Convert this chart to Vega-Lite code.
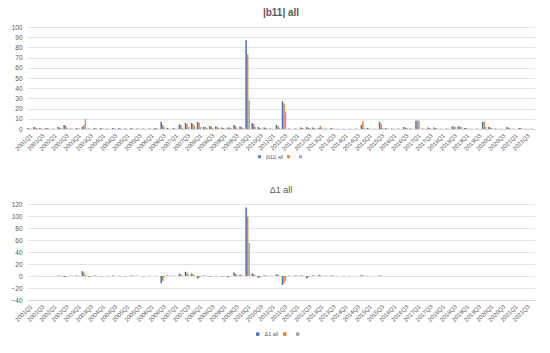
{
  "$schema": "https://vega.github.io/schema/vega-lite/v6.json",
  "background": "white",
  "padding": {"left": 10, "top": 8, "right": 12, "bottom": 5},
  "config": {
    "font": "Liberation Sans",
    "view": {"stroke": null},
    "concat": {"spacing": 26},
    "axis": {"labelColor": "#595959", "labelFontSize": 6.5, "gridColor": "#D9D9D9", "gridWidth": 0.7, "domainColor": "#D9D9D9", "ticks": false, "title": null},
    "legend": {"title": null, "symbolType": "square", "symbolSize": 10, "symbolStrokeWidth": 0, "labelFontSize": 5.5, "labelColor": "#595959", "columnPadding": 3},
    "title": {"color": "#595959", "offset": 6}
  },
  "resolve": {"scale": {"color": "independent", "xOffset": "independent"}},
  "datasets": {
    "top": [
      {"q":"2001Q1","s":"|b11| all","v":1},{"q":"2001Q1","s":"s2","v":0.5},{"q":"2001Q1","s":"s3","v":0.5},
      {"q":"2001Q2","s":"|b11| all","v":2},{"q":"2001Q2","s":"s2","v":1.5},{"q":"2001Q2","s":"s3","v":1},
      {"q":"2001Q3","s":"|b11| all","v":1},{"q":"2001Q3","s":"s2","v":0.5},{"q":"2001Q3","s":"s3","v":0.5},
      {"q":"2001Q4","s":"|b11| all","v":1},{"q":"2001Q4","s":"s2","v":1},{"q":"2001Q4","s":"s3","v":0.5},
      {"q":"2002Q1","s":"|b11| all","v":0.3},{"q":"2002Q1","s":"s2","v":0.3},{"q":"2002Q1","s":"s3","v":0.2},
      {"q":"2002Q2","s":"|b11| all","v":2},{"q":"2002Q2","s":"s2","v":1.5},{"q":"2002Q2","s":"s3","v":1},
      {"q":"2002Q3","s":"|b11| all","v":4},{"q":"2002Q3","s":"s2","v":3},{"q":"2002Q3","s":"s3","v":1},
      {"q":"2002Q4","s":"|b11| all","v":0.5},{"q":"2002Q4","s":"s2","v":0.3},{"q":"2002Q4","s":"s3","v":0.2},
      {"q":"2003Q1","s":"|b11| all","v":1},{"q":"2003Q1","s":"s2","v":0.5},{"q":"2003Q1","s":"s3","v":0.5},
      {"q":"2003Q2","s":"|b11| all","v":2},{"q":"2003Q2","s":"s2","v":4},{"q":"2003Q2","s":"s3","v":10},
      {"q":"2003Q3","s":"|b11| all","v":0.5},{"q":"2003Q3","s":"s2","v":0.3},{"q":"2003Q3","s":"s3","v":0.2},
      {"q":"2003Q4","s":"|b11| all","v":1},{"q":"2003Q4","s":"s2","v":0.5},{"q":"2003Q4","s":"s3","v":0.3},
      {"q":"2004Q1","s":"|b11| all","v":1},{"q":"2004Q1","s":"s2","v":0.5},{"q":"2004Q1","s":"s3","v":0.3},
      {"q":"2004Q2","s":"|b11| all","v":0.5},{"q":"2004Q2","s":"s2","v":0.3},{"q":"2004Q2","s":"s3","v":0.2},
      {"q":"2004Q3","s":"|b11| all","v":1},{"q":"2004Q3","s":"s2","v":0.5},{"q":"2004Q3","s":"s3","v":0.3},
      {"q":"2004Q4","s":"|b11| all","v":1},{"q":"2004Q4","s":"s2","v":0.5},{"q":"2004Q4","s":"s3","v":0.3},
      {"q":"2005Q1","s":"|b11| all","v":0.5},{"q":"2005Q1","s":"s2","v":0.3},{"q":"2005Q1","s":"s3","v":0.2},
      {"q":"2005Q2","s":"|b11| all","v":1},{"q":"2005Q2","s":"s2","v":0.5},{"q":"2005Q2","s":"s3","v":0.3},
      {"q":"2005Q3","s":"|b11| all","v":0.5},{"q":"2005Q3","s":"s2","v":0.3},{"q":"2005Q3","s":"s3","v":0.2},
      {"q":"2005Q4","s":"|b11| all","v":0.5},{"q":"2005Q4","s":"s2","v":0.3},{"q":"2005Q4","s":"s3","v":0.2},
      {"q":"2006Q1","s":"|b11| all","v":0.5},{"q":"2006Q1","s":"s2","v":0.3},{"q":"2006Q1","s":"s3","v":0.2},
      {"q":"2006Q2","s":"|b11| all","v":1},{"q":"2006Q2","s":"s2","v":0.5},{"q":"2006Q2","s":"s3","v":0.3},
      {"q":"2006Q3","s":"|b11| all","v":7},{"q":"2006Q3","s":"s2","v":4},{"q":"2006Q3","s":"s3","v":2},
      {"q":"2006Q4","s":"|b11| all","v":1},{"q":"2006Q4","s":"s2","v":0.5},{"q":"2006Q4","s":"s3","v":0.3},
      {"q":"2007Q1","s":"|b11| all","v":1},{"q":"2007Q1","s":"s2","v":0.5},{"q":"2007Q1","s":"s3","v":0.3},
      {"q":"2007Q2","s":"|b11| all","v":4.5},{"q":"2007Q2","s":"s2","v":4},{"q":"2007Q2","s":"s3","v":1},
      {"q":"2007Q3","s":"|b11| all","v":6},{"q":"2007Q3","s":"s2","v":5},{"q":"2007Q3","s":"s3","v":2},
      {"q":"2007Q4","s":"|b11| all","v":6},{"q":"2007Q4","s":"s2","v":5},{"q":"2007Q4","s":"s3","v":3},
      {"q":"2008Q1","s":"|b11| all","v":7},{"q":"2008Q1","s":"s2","v":6},{"q":"2008Q1","s":"s3","v":2},
      {"q":"2008Q2","s":"|b11| all","v":2},{"q":"2008Q2","s":"s2","v":2},{"q":"2008Q2","s":"s3","v":1},
      {"q":"2008Q3","s":"|b11| all","v":3},{"q":"2008Q3","s":"s2","v":2.5},{"q":"2008Q3","s":"s3","v":1},
      {"q":"2008Q4","s":"|b11| all","v":2.5},{"q":"2008Q4","s":"s2","v":2},{"q":"2008Q4","s":"s3","v":1},
      {"q":"2009Q1","s":"|b11| all","v":1.5},{"q":"2009Q1","s":"s2","v":1},{"q":"2009Q1","s":"s3","v":0.5},
      {"q":"2009Q2","s":"|b11| all","v":1.5},{"q":"2009Q2","s":"s2","v":1.5},{"q":"2009Q2","s":"s3","v":1},
      {"q":"2009Q3","s":"|b11| all","v":4},{"q":"2009Q3","s":"s2","v":3},{"q":"2009Q3","s":"s3","v":1},
      {"q":"2009Q4","s":"|b11| all","v":2.5},{"q":"2009Q4","s":"s2","v":2},{"q":"2009Q4","s":"s3","v":1},
      {"q":"2010Q1","s":"|b11| all","v":87},{"q":"2010Q1","s":"s2","v":73},{"q":"2010Q1","s":"s3","v":28},
      {"q":"2010Q2","s":"|b11| all","v":6},{"q":"2010Q2","s":"s2","v":5},{"q":"2010Q2","s":"s3","v":2},
      {"q":"2010Q3","s":"|b11| all","v":2},{"q":"2010Q3","s":"s2","v":1},{"q":"2010Q3","s":"s3","v":0.5},
      {"q":"2010Q4","s":"|b11| all","v":1.5},{"q":"2010Q4","s":"s2","v":1},{"q":"2010Q4","s":"s3","v":0.5},
      {"q":"2011Q1","s":"|b11| all","v":0.5},{"q":"2011Q1","s":"s2","v":0.3},{"q":"2011Q1","s":"s3","v":0.2},
      {"q":"2011Q2","s":"|b11| all","v":4},{"q":"2011Q2","s":"s2","v":3},{"q":"2011Q2","s":"s3","v":1},
      {"q":"2011Q3","s":"|b11| all","v":27},{"q":"2011Q3","s":"s2","v":25},{"q":"2011Q3","s":"s3","v":17},
      {"q":"2011Q4","s":"|b11| all","v":0.5},{"q":"2011Q4","s":"s2","v":0.3},{"q":"2011Q4","s":"s3","v":0.2},
      {"q":"2012Q1","s":"|b11| all","v":0.5},{"q":"2012Q1","s":"s2","v":0.3},{"q":"2012Q1","s":"s3","v":0.2},
      {"q":"2012Q2","s":"|b11| all","v":1.5},{"q":"2012Q2","s":"s2","v":1},{"q":"2012Q2","s":"s3","v":0.5},
      {"q":"2012Q3","s":"|b11| all","v":2},{"q":"2012Q3","s":"s2","v":1},{"q":"2012Q3","s":"s3","v":1},
      {"q":"2012Q4","s":"|b11| all","v":1.5},{"q":"2012Q4","s":"s2","v":1},{"q":"2012Q4","s":"s3","v":0.5},
      {"q":"2013Q1","s":"|b11| all","v":1},{"q":"2013Q1","s":"s2","v":3},{"q":"2013Q1","s":"s3","v":1},
      {"q":"2013Q2","s":"|b11| all","v":0.5},{"q":"2013Q2","s":"s2","v":0.3},{"q":"2013Q2","s":"s3","v":0.2},
      {"q":"2013Q3","s":"|b11| all","v":1},{"q":"2013Q3","s":"s2","v":0.5},{"q":"2013Q3","s":"s3","v":0.5},
      {"q":"2013Q4","s":"|b11| all","v":0.3},{"q":"2013Q4","s":"s2","v":0.2},{"q":"2013Q4","s":"s3","v":0.1},
      {"q":"2014Q1","s":"|b11| all","v":0.3},{"q":"2014Q1","s":"s2","v":0.2},{"q":"2014Q1","s":"s3","v":0.1},
      {"q":"2014Q2","s":"|b11| all","v":0.3},{"q":"2014Q2","s":"s2","v":0.2},{"q":"2014Q2","s":"s3","v":0.1},
      {"q":"2014Q3","s":"|b11| all","v":0.3},{"q":"2014Q3","s":"s2","v":0.2},{"q":"2014Q3","s":"s3","v":0.1},
      {"q":"2014Q4","s":"|b11| all","v":4},{"q":"2014Q4","s":"s2","v":7},{"q":"2014Q4","s":"s3","v":1},
      {"q":"2015Q1","s":"|b11| all","v":1},{"q":"2015Q1","s":"s2","v":0.5},{"q":"2015Q1","s":"s3","v":0.3},
      {"q":"2015Q2","s":"|b11| all","v":0.3},{"q":"2015Q2","s":"s2","v":0.2},{"q":"2015Q2","s":"s3","v":0.1},
      {"q":"2015Q3","s":"|b11| all","v":7},{"q":"2015Q3","s":"s2","v":5},{"q":"2015Q3","s":"s3","v":1},
      {"q":"2015Q4","s":"|b11| all","v":1},{"q":"2015Q4","s":"s2","v":0.5},{"q":"2015Q4","s":"s3","v":0.3},
      {"q":"2016Q1","s":"|b11| all","v":0.5},{"q":"2016Q1","s":"s2","v":0.3},{"q":"2016Q1","s":"s3","v":0.2},
      {"q":"2016Q2","s":"|b11| all","v":0.5},{"q":"2016Q2","s":"s2","v":0.3},{"q":"2016Q2","s":"s3","v":0.2},
      {"q":"2016Q3","s":"|b11| all","v":2},{"q":"2016Q3","s":"s2","v":1.5},{"q":"2016Q3","s":"s3","v":1},
      {"q":"2016Q4","s":"|b11| all","v":0.5},{"q":"2016Q4","s":"s2","v":0.3},{"q":"2016Q4","s":"s3","v":0.2},
      {"q":"2017Q1","s":"|b11| all","v":8},{"q":"2017Q1","s":"s2","v":8.5},{"q":"2017Q1","s":"s3","v":8},
      {"q":"2017Q2","s":"|b11| all","v":0.5},{"q":"2017Q2","s":"s2","v":0.3},{"q":"2017Q2","s":"s3","v":0.2},
      {"q":"2017Q3","s":"|b11| all","v":1.5},{"q":"2017Q3","s":"s2","v":1},{"q":"2017Q3","s":"s3","v":0.5},
      {"q":"2017Q4","s":"|b11| all","v":1.5},{"q":"2017Q4","s":"s2","v":1},{"q":"2017Q4","s":"s3","v":0.5},
      {"q":"2018Q1","s":"|b11| all","v":0.3},{"q":"2018Q1","s":"s2","v":0.2},{"q":"2018Q1","s":"s3","v":0.1},
      {"q":"2018Q2","s":"|b11| all","v":0.5},{"q":"2018Q2","s":"s2","v":0.3},{"q":"2018Q2","s":"s3","v":0.2},
      {"q":"2018Q3","s":"|b11| all","v":2.5},{"q":"2018Q3","s":"s2","v":2.5},{"q":"2018Q3","s":"s3","v":2},
      {"q":"2018Q4","s":"|b11| all","v":2.5},{"q":"2018Q4","s":"s2","v":2.5},{"q":"2018Q4","s":"s3","v":2},
      {"q":"2019Q1","s":"|b11| all","v":1},{"q":"2019Q1","s":"s2","v":1},{"q":"2019Q1","s":"s3","v":0.5},
      {"q":"2019Q2","s":"|b11| all","v":0.3},{"q":"2019Q2","s":"s2","v":0.2},{"q":"2019Q2","s":"s3","v":0.1},
      {"q":"2019Q3","s":"|b11| all","v":0.3},{"q":"2019Q3","s":"s2","v":0.2},{"q":"2019Q3","s":"s3","v":0.1},
      {"q":"2019Q4","s":"|b11| all","v":7},{"q":"2019Q4","s":"s2","v":7},{"q":"2019Q4","s":"s3","v":2},
      {"q":"2020Q1","s":"|b11| all","v":2},{"q":"2020Q1","s":"s2","v":1.5},{"q":"2020Q1","s":"s3","v":1},
      {"q":"2020Q2","s":"|b11| all","v":0.5},{"q":"2020Q2","s":"s2","v":0.3},{"q":"2020Q2","s":"s3","v":0.2},
      {"q":"2020Q3","s":"|b11| all","v":0.3},{"q":"2020Q3","s":"s2","v":0.2},{"q":"2020Q3","s":"s3","v":0.1},
      {"q":"2020Q4","s":"|b11| all","v":2},{"q":"2020Q4","s":"s2","v":1.5},{"q":"2020Q4","s":"s3","v":1},
      {"q":"2021Q1","s":"|b11| all","v":0.3},{"q":"2021Q1","s":"s2","v":0.2},{"q":"2021Q1","s":"s3","v":0.1},
      {"q":"2021Q2","s":"|b11| all","v":1},{"q":"2021Q2","s":"s2","v":1},{"q":"2021Q2","s":"s3","v":0.5},
      {"q":"2021Q3","s":"|b11| all","v":0.3},{"q":"2021Q3","s":"s2","v":0.2},{"q":"2021Q3","s":"s3","v":0.1},
      {"q":"2021Q4","s":"|b11| all","v":0.3},{"q":"2021Q4","s":"s2","v":0.2},{"q":"2021Q4","s":"s3","v":0.1}
    ],
    "bot": [
      {"q":"2001Q2","s":"Δ1 all","v":0.2},{"q":"2001Q2","s":"s2","v":0.1},{"q":"2001Q2","s":"s3","v":0.1},
      {"q":"2001Q3","s":"Δ1 all","v":-0.2},{"q":"2001Q3","s":"s2","v":-0.1},{"q":"2001Q3","s":"s3","v":-0.1},
      {"q":"2001Q4","s":"Δ1 all","v":0.2},{"q":"2001Q4","s":"s2","v":0.1},{"q":"2001Q4","s":"s3","v":0.1},
      {"q":"2002Q1","s":"Δ1 all","v":-0.2},{"q":"2002Q1","s":"s2","v":-0.1},{"q":"2002Q1","s":"s3","v":-0.1},
      {"q":"2002Q2","s":"Δ1 all","v":1},{"q":"2002Q2","s":"s2","v":0.5},{"q":"2002Q2","s":"s3","v":0.3},
      {"q":"2002Q3","s":"Δ1 all","v":-1.5},{"q":"2002Q3","s":"s2","v":-1},{"q":"2002Q3","s":"s3","v":-0.5},
      {"q":"2002Q4","s":"Δ1 all","v":0.5},{"q":"2002Q4","s":"s2","v":0.3},{"q":"2002Q4","s":"s3","v":0.2},
      {"q":"2003Q1","s":"Δ1 all","v":1},{"q":"2003Q1","s":"s2","v":0.5},{"q":"2003Q1","s":"s3","v":0.3},
      {"q":"2003Q2","s":"Δ1 all","v":8},{"q":"2003Q2","s":"s2","v":6},{"q":"2003Q2","s":"s3","v":2},
      {"q":"2003Q3","s":"Δ1 all","v":-1},{"q":"2003Q3","s":"s2","v":-1},{"q":"2003Q3","s":"s3","v":-0.5},
      {"q":"2003Q4","s":"Δ1 all","v":1},{"q":"2003Q4","s":"s2","v":0.5},{"q":"2003Q4","s":"s3","v":0.3},
      {"q":"2004Q1","s":"Δ1 all","v":-0.5},{"q":"2004Q1","s":"s2","v":-0.3},{"q":"2004Q1","s":"s3","v":-0.2},
      {"q":"2004Q2","s":"Δ1 all","v":0.5},{"q":"2004Q2","s":"s2","v":0.3},{"q":"2004Q2","s":"s3","v":0.2},
      {"q":"2004Q3","s":"Δ1 all","v":1},{"q":"2004Q3","s":"s2","v":0.5},{"q":"2004Q3","s":"s3","v":0.3},
      {"q":"2004Q4","s":"Δ1 all","v":0.5},{"q":"2004Q4","s":"s2","v":0.3},{"q":"2004Q4","s":"s3","v":0.2},
      {"q":"2005Q1","s":"Δ1 all","v":-0.5},{"q":"2005Q1","s":"s2","v":-0.3},{"q":"2005Q1","s":"s3","v":-0.2},
      {"q":"2005Q2","s":"Δ1 all","v":1},{"q":"2005Q2","s":"s2","v":0.5},{"q":"2005Q2","s":"s3","v":0.3},
      {"q":"2005Q3","s":"Δ1 all","v":0.5},{"q":"2005Q3","s":"s2","v":0.3},{"q":"2005Q3","s":"s3","v":0.2},
      {"q":"2005Q4","s":"Δ1 all","v":-0.5},{"q":"2005Q4","s":"s2","v":-0.3},{"q":"2005Q4","s":"s3","v":-0.2},
      {"q":"2006Q1","s":"Δ1 all","v":0.5},{"q":"2006Q1","s":"s2","v":0.3},{"q":"2006Q1","s":"s3","v":0.2},
      {"q":"2006Q2","s":"Δ1 all","v":0.5},{"q":"2006Q2","s":"s2","v":0.3},{"q":"2006Q2","s":"s3","v":0.2},
      {"q":"2006Q3","s":"Δ1 all","v":-12},{"q":"2006Q3","s":"s2","v":-8},{"q":"2006Q3","s":"s3","v":-3},
      {"q":"2006Q4","s":"Δ1 all","v":1},{"q":"2006Q4","s":"s2","v":0.5},{"q":"2006Q4","s":"s3","v":0.3},
      {"q":"2007Q1","s":"Δ1 all","v":0.5},{"q":"2007Q1","s":"s2","v":0.3},{"q":"2007Q1","s":"s3","v":0.2},
      {"q":"2007Q2","s":"Δ1 all","v":4},{"q":"2007Q2","s":"s2","v":3},{"q":"2007Q2","s":"s3","v":1},
      {"q":"2007Q3","s":"Δ1 all","v":7},{"q":"2007Q3","s":"s2","v":6},{"q":"2007Q3","s":"s3","v":2},
      {"q":"2007Q4","s":"Δ1 all","v":4},{"q":"2007Q4","s":"s2","v":3},{"q":"2007Q4","s":"s3","v":1},
      {"q":"2008Q1","s":"Δ1 all","v":-4},{"q":"2008Q1","s":"s2","v":-3},{"q":"2008Q1","s":"s3","v":-1},
      {"q":"2008Q2","s":"Δ1 all","v":1},{"q":"2008Q2","s":"s2","v":0.5},{"q":"2008Q2","s":"s3","v":0.3},
      {"q":"2008Q3","s":"Δ1 all","v":-1},{"q":"2008Q3","s":"s2","v":-0.5},{"q":"2008Q3","s":"s3","v":-0.3},
      {"q":"2008Q4","s":"Δ1 all","v":0.5},{"q":"2008Q4","s":"s2","v":0.3},{"q":"2008Q4","s":"s3","v":0.2},
      {"q":"2009Q1","s":"Δ1 all","v":-1},{"q":"2009Q1","s":"s2","v":-0.5},{"q":"2009Q1","s":"s3","v":-0.3},
      {"q":"2009Q2","s":"Δ1 all","v":-2},{"q":"2009Q2","s":"s2","v":-1},{"q":"2009Q2","s":"s3","v":-0.5},
      {"q":"2009Q3","s":"Δ1 all","v":6},{"q":"2009Q3","s":"s2","v":4},{"q":"2009Q3","s":"s3","v":2},
      {"q":"2009Q4","s":"Δ1 all","v":2},{"q":"2009Q4","s":"s2","v":1},{"q":"2009Q4","s":"s3","v":0.5},
      {"q":"2010Q1","s":"Δ1 all","v":114},{"q":"2010Q1","s":"s2","v":99},{"q":"2010Q1","s":"s3","v":55},
      {"q":"2010Q2","s":"Δ1 all","v":4},{"q":"2010Q2","s":"s2","v":3},{"q":"2010Q2","s":"s3","v":1},
      {"q":"2010Q3","s":"Δ1 all","v":-3},{"q":"2010Q3","s":"s2","v":-2},{"q":"2010Q3","s":"s3","v":-1},
      {"q":"2010Q4","s":"Δ1 all","v":1},{"q":"2010Q4","s":"s2","v":1},{"q":"2010Q4","s":"s3","v":0.5},
      {"q":"2011Q1","s":"Δ1 all","v":0.5},{"q":"2011Q1","s":"s2","v":0.3},{"q":"2011Q1","s":"s3","v":0.2},
      {"q":"2011Q2","s":"Δ1 all","v":3},{"q":"2011Q2","s":"s2","v":2},{"q":"2011Q2","s":"s3","v":1},
      {"q":"2011Q3","s":"Δ1 all","v":-15},{"q":"2011Q3","s":"s2","v":-12},{"q":"2011Q3","s":"s3","v":-8},
      {"q":"2011Q4","s":"Δ1 all","v":0.5},{"q":"2011Q4","s":"s2","v":0.3},{"q":"2011Q4","s":"s3","v":0.2},
      {"q":"2012Q1","s":"Δ1 all","v":1},{"q":"2012Q1","s":"s2","v":1},{"q":"2012Q1","s":"s3","v":0.5},
      {"q":"2012Q2","s":"Δ1 all","v":1},{"q":"2012Q2","s":"s2","v":1},{"q":"2012Q2","s":"s3","v":0.5},
      {"q":"2012Q3","s":"Δ1 all","v":-4},{"q":"2012Q3","s":"s2","v":-2},{"q":"2012Q3","s":"s3","v":-1},
      {"q":"2012Q4","s":"Δ1 all","v":1},{"q":"2012Q4","s":"s2","v":1},{"q":"2012Q4","s":"s3","v":0.5},
      {"q":"2013Q1","s":"Δ1 all","v":2},{"q":"2013Q1","s":"s2","v":1},{"q":"2013Q1","s":"s3","v":0.5},
      {"q":"2013Q2","s":"Δ1 all","v":0.5},{"q":"2013Q2","s":"s2","v":0.3},{"q":"2013Q2","s":"s3","v":0.2},
      {"q":"2013Q3","s":"Δ1 all","v":1},{"q":"2013Q3","s":"s2","v":0.5},{"q":"2013Q3","s":"s3","v":0.3},
      {"q":"2013Q4","s":"Δ1 all","v":0.3},{"q":"2013Q4","s":"s2","v":0.2},{"q":"2013Q4","s":"s3","v":0.1},
      {"q":"2014Q1","s":"Δ1 all","v":0.3},{"q":"2014Q1","s":"s2","v":0.2},{"q":"2014Q1","s":"s3","v":0.1},
      {"q":"2014Q2","s":"Δ1 all","v":0.3},{"q":"2014Q2","s":"s2","v":0.2},{"q":"2014Q2","s":"s3","v":0.1},
      {"q":"2014Q3","s":"Δ1 all","v":0.3},{"q":"2014Q3","s":"s2","v":0.2},{"q":"2014Q3","s":"s3","v":0.1},
      {"q":"2014Q4","s":"Δ1 all","v":1.5},{"q":"2014Q4","s":"s2","v":1},{"q":"2014Q4","s":"s3","v":0.5},
      {"q":"2015Q1","s":"Δ1 all","v":0.3},{"q":"2015Q1","s":"s2","v":0.2},{"q":"2015Q1","s":"s3","v":0.1},
      {"q":"2015Q2","s":"Δ1 all","v":0.3},{"q":"2015Q2","s":"s2","v":0.2},{"q":"2015Q2","s":"s3","v":0.1},
      {"q":"2015Q3","s":"Δ1 all","v":1},{"q":"2015Q3","s":"s2","v":0.5},{"q":"2015Q3","s":"s3","v":0.3}
    ]
  },
  "vconcat": [
    {
      "data": {"name": "top"},
      "title": {"text": "|b11| all", "fontSize": 10, "fontWeight": "bold"},
      "width": 508,
      "height": 102,
      "mark": {"type": "bar"},
      "encoding": {
        "x": {"field": "q", "type": "nominal",
          "scale": {"domain": ["2001Q1","2001Q2","2001Q3","2001Q4","2002Q1","2002Q2","2002Q3","2002Q4","2003Q1","2003Q2","2003Q3","2003Q4","2004Q1","2004Q2","2004Q3","2004Q4","2005Q1","2005Q2","2005Q3","2005Q4","2006Q1","2006Q2","2006Q3","2006Q4","2007Q1","2007Q2","2007Q3","2007Q4","2008Q1","2008Q2","2008Q3","2008Q4","2009Q1","2009Q2","2009Q3","2009Q4","2010Q1","2010Q2","2010Q3","2010Q4","2011Q1","2011Q2","2011Q3","2011Q4","2012Q1","2012Q2","2012Q3","2012Q4","2013Q1","2013Q2","2013Q3","2013Q4","2014Q1","2014Q2","2014Q3","2014Q4","2015Q1","2015Q2","2015Q3","2015Q4","2016Q1","2016Q2","2016Q3","2016Q4","2017Q1","2017Q2","2017Q3","2017Q4","2018Q1","2018Q2","2018Q3","2018Q4","2019Q1","2019Q2","2019Q3","2019Q4","2020Q1","2020Q2","2020Q3","2020Q4","2021Q1","2021Q2","2021Q3","2021Q4"], "paddingInner": 0.25, "paddingOuter": 0},
          "axis": {"values": ["2001Q1","2001Q3","2002Q1","2002Q3","2003Q1","2003Q3","2004Q1","2004Q3","2005Q1","2005Q3","2006Q1","2006Q3","2007Q1","2007Q3","2008Q1","2008Q3","2009Q1","2009Q3","2010Q1","2010Q3","2011Q1","2011Q3","2012Q1","2012Q3","2013Q1","2013Q3","2014Q1","2014Q3","2015Q1","2015Q3","2016Q1","2016Q3","2017Q1","2017Q3","2018Q1","2018Q3","2019Q1","2019Q3","2020Q1","2020Q3","2021Q1","2021Q3"], "labelAngle": -45, "labelFontSize": 6, "labelPadding": 3, "grid": false}},
        "xOffset": {"field": "s", "type": "nominal", "scale": {"domain": ["|b11| all","s2","s3"]}},
        "y": {"field": "v", "type": "quantitative", "scale": {"domain": [0, 100]}, "axis": {"values": [0,10,20,30,40,50,60,70,80,90,100], "domain": false, "labelPadding": 5}},
        "color": {"field": "s", "type": "nominal", "scale": {"domain": ["|b11| all","s2","s3"], "range": ["#4472C4","#ED7D31","#A5A5A5"]},
          "legend": {"orient": "none", "direction": "horizontal", "legendX": 230, "legendY": 127, "symbolSize": 8, "labelFontSize": 5, "labelExpr": "datum.value == 's2' || datum.value == 's3' ? '' : datum.label"}}
      }
    },
    {
      "data": {"name": "bot"},
      "title": {"text": "Δ1 all", "fontSize": 9, "fontWeight": "normal"},
      "width": 508,
      "height": 96,
      "mark": {"type": "bar"},
      "encoding": {
        "x": {"field": "q", "type": "nominal",
          "scale": {"domain": ["2001Q1","2001Q2","2001Q3","2001Q4","2002Q1","2002Q2","2002Q3","2002Q4","2003Q1","2003Q2","2003Q3","2003Q4","2004Q1","2004Q2","2004Q3","2004Q4","2005Q1","2005Q2","2005Q3","2005Q4","2006Q1","2006Q2","2006Q3","2006Q4","2007Q1","2007Q2","2007Q3","2007Q4","2008Q1","2008Q2","2008Q3","2008Q4","2009Q1","2009Q2","2009Q3","2009Q4","2010Q1","2010Q2","2010Q3","2010Q4","2011Q1","2011Q2","2011Q3","2011Q4","2012Q1","2012Q2","2012Q3","2012Q4","2013Q1","2013Q2","2013Q3","2013Q4","2014Q1","2014Q2","2014Q3","2014Q4","2015Q1","2015Q2","2015Q3","2015Q4","2016Q1","2016Q2","2016Q3","2016Q4","2017Q1","2017Q2","2017Q3","2017Q4","2018Q1","2018Q2","2018Q3","2018Q4","2019Q1","2019Q2","2019Q3","2019Q4","2020Q1","2020Q2","2020Q3","2020Q4","2021Q1","2021Q2","2021Q3","2021Q4"], "paddingInner": 0.25, "paddingOuter": 0},
          "axis": {"values": ["2001Q1","2001Q3","2002Q1","2002Q3","2003Q1","2003Q3","2004Q1","2004Q3","2005Q1","2005Q3","2006Q1","2006Q3","2007Q1","2007Q3","2008Q1","2008Q3","2009Q1","2009Q3","2010Q1","2010Q3","2011Q1","2011Q3","2012Q1","2012Q3","2013Q1","2013Q3","2014Q1","2014Q3","2015Q1","2015Q3","2016Q1","2016Q3","2017Q1","2017Q3","2018Q1","2018Q3","2019Q1","2019Q3","2020Q1","2020Q3","2021Q1","2021Q3"], "labelAngle": -45, "labelFontSize": 6, "labelPadding": 3, "grid": false}},
        "xOffset": {"field": "s", "type": "nominal", "scale": {"domain": ["Δ1 all","s2","s3"]}},
        "y": {"field": "v", "type": "quantitative", "scale": {"domain": [-40, 120]}, "axis": {"values": [-40,-20,0,20,40,60,80,100,120], "domain": false, "labelPadding": 5}},
        "color": {"field": "s", "type": "nominal", "scale": {"domain": ["Δ1 all","s2","s3"], "range": ["#4472C4","#ED7D31","#A5A5A5"]},
          "legend": {"orient": "none", "direction": "horizontal", "legendX": 228, "legendY": 127, "symbolSize": 12, "labelFontSize": 5.5, "labelExpr": "datum.value == 's2' || datum.value == 's3' ? '' : datum.label"}}
      }
    }
  ]
}
